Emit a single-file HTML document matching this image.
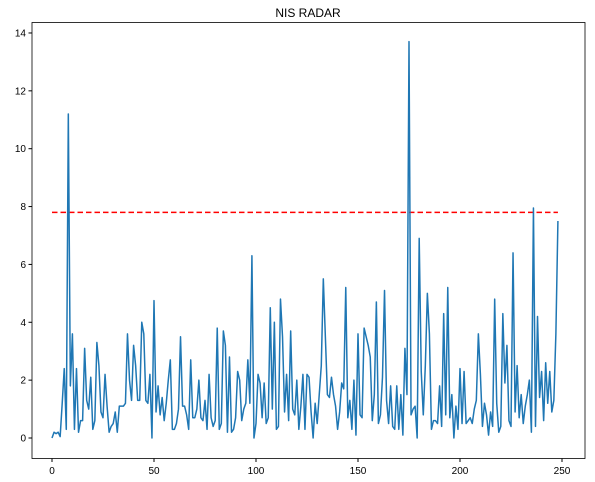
<!DOCTYPE html>
<html><head><meta charset="utf-8"><style>
body{margin:0;background:#fff;}
svg{display:block;font-family:"Liberation Sans","DejaVu Sans",sans-serif;}
</style></head><body>
<svg id="chart" width="595" height="482" viewBox="0 0 595 482" xmlns="http://www.w3.org/2000/svg">
<text x="308" y="17" text-anchor="middle" font-size="12">NIS RADAR</text>
<rect x="32" y="22.5" width="553" height="436" fill="none" stroke="#000" stroke-width="0.8"/>
<g id="ticks"></g>
<line id="thr" stroke="#f00" stroke-width="1.5" stroke-dasharray="5.5,3"/>
<polyline id="series" fill="none" stroke="#1f77b4" stroke-width="1.5" stroke-linejoin="round"/>
</svg>
<script>
const nisValues=[0,0.2,0.15,0.2,0.05,1.2,2.4,0.3,11.2,1.8,3.6,0.3,2.4,0.2,0.6,0.6,3.1,1.3,1.0,2.1,0.3,0.6,3.3,2.5,0.9,0.7,2.2,1.1,0.2,0.4,0.5,0.9,0.2,1.1,1.1,1.1,1.2,3.6,2.0,1.3,3.2,2.5,1.3,1.3,4.0,3.6,1.3,1.2,2.2,0.0,4.75,0.9,1.8,0.8,1.4,0.6,1.2,2.0,2.7,0.3,0.3,0.5,1.0,3.5,1.1,1.1,0.8,0.3,2.7,0.7,0.7,1.0,2.0,0.7,0.6,1.3,0.3,2.2,0.7,0.4,0.6,3.8,0.3,0.5,3.7,3.2,0.2,2.8,0.2,0.3,0.7,2.3,2.0,0.6,1.0,1.2,2.7,1.2,6.3,0.0,0.5,2.2,1.9,0.7,1.9,0.5,0.7,4.5,1.0,4.0,0.3,0.4,4.8,3.5,0.9,2.2,0.6,3.7,1.0,0.8,2.0,0.3,1.1,2.2,0.3,2.2,2.1,0.9,0.0,1.2,0.5,1.5,2.5,5.5,3.5,1.5,1.4,2.1,1.5,1.1,0.3,0.9,1.9,1.7,5.2,0.7,1.3,0.3,2.0,0.1,3.6,0.8,0.7,3.8,3.5,3.2,2.8,0.6,1.5,4.7,0.5,0.8,2.1,5.1,1.3,0.5,1.8,0.4,0.3,1.8,0.3,1.5,0.1,3.1,1.5,13.7,0.8,1.0,1.1,0.0,6.9,2.3,0.8,2.5,5.0,3.6,0.3,0.6,0.6,0.5,1.8,0.4,4.3,0.8,5.2,0.7,1.5,0.0,1.1,0.3,2.4,0.5,2.3,0.5,0.6,0.7,0.5,1.0,1.3,3.6,2.2,0.4,1.2,0.8,0.1,0.9,0.4,4.8,1.2,0.2,0.4,4.3,1.9,3.2,0.6,0.4,6.4,0.9,2.5,0.7,1.5,0.5,1.1,1.5,2.0,0.2,7.95,0.4,4.2,1.4,2.3,0.6,2.6,1.2,2.3,0.9,1.3,3.6,7.5];
const threshold=[7.8];
const xTicks=[0,50,100,150,200,250];
const yTicks=[0,2,4,6,8,10,12,14];
const NS="http://www.w3.org/2000/svg";
const xs=v=>52+v*2.04;
const ys=v=>438-v*28.93;
const g=document.getElementById('ticks');
function mk(tag,attrs,parent){const e=document.createElementNS(NS,tag);for(const k in attrs)e.setAttribute(k,attrs[k]);parent.appendChild(e);return e;}
xTicks.forEach(t=>{
 const l=mk('line',{x1:xs(t),x2:xs(t),y1:458.5,y2:462,stroke:'#000'},g);
 
 
 const tx=mk('text',{x:xs(t),y:474,'text-anchor':'middle','font-size':'10'},g);tx.textContent=t;
 
 
});
yTicks.forEach(t=>{
 const l=mk('line',{x1:28.5,x2:32,y1:ys(t),y2:ys(t),stroke:'#000'},g);
 
 
 const tx=mk('text',{x:26,y:ys(t)+3.5,'text-anchor':'end','font-size':'10'},g);tx.textContent=t;
 
 
});
const thr=document.getElementById('thr');
thr.setAttribute('x1',xs(0));thr.setAttribute('x2',xs(nisValues.length-1));
thr.setAttribute('y1',ys(threshold[0]));thr.setAttribute('y2',ys(threshold[0]));
document.getElementById('series').setAttribute('points',nisValues.map((v,i)=>xs(i).toFixed(2)+','+ys(v).toFixed(2)).join(' '));
</script>
</body></html>
